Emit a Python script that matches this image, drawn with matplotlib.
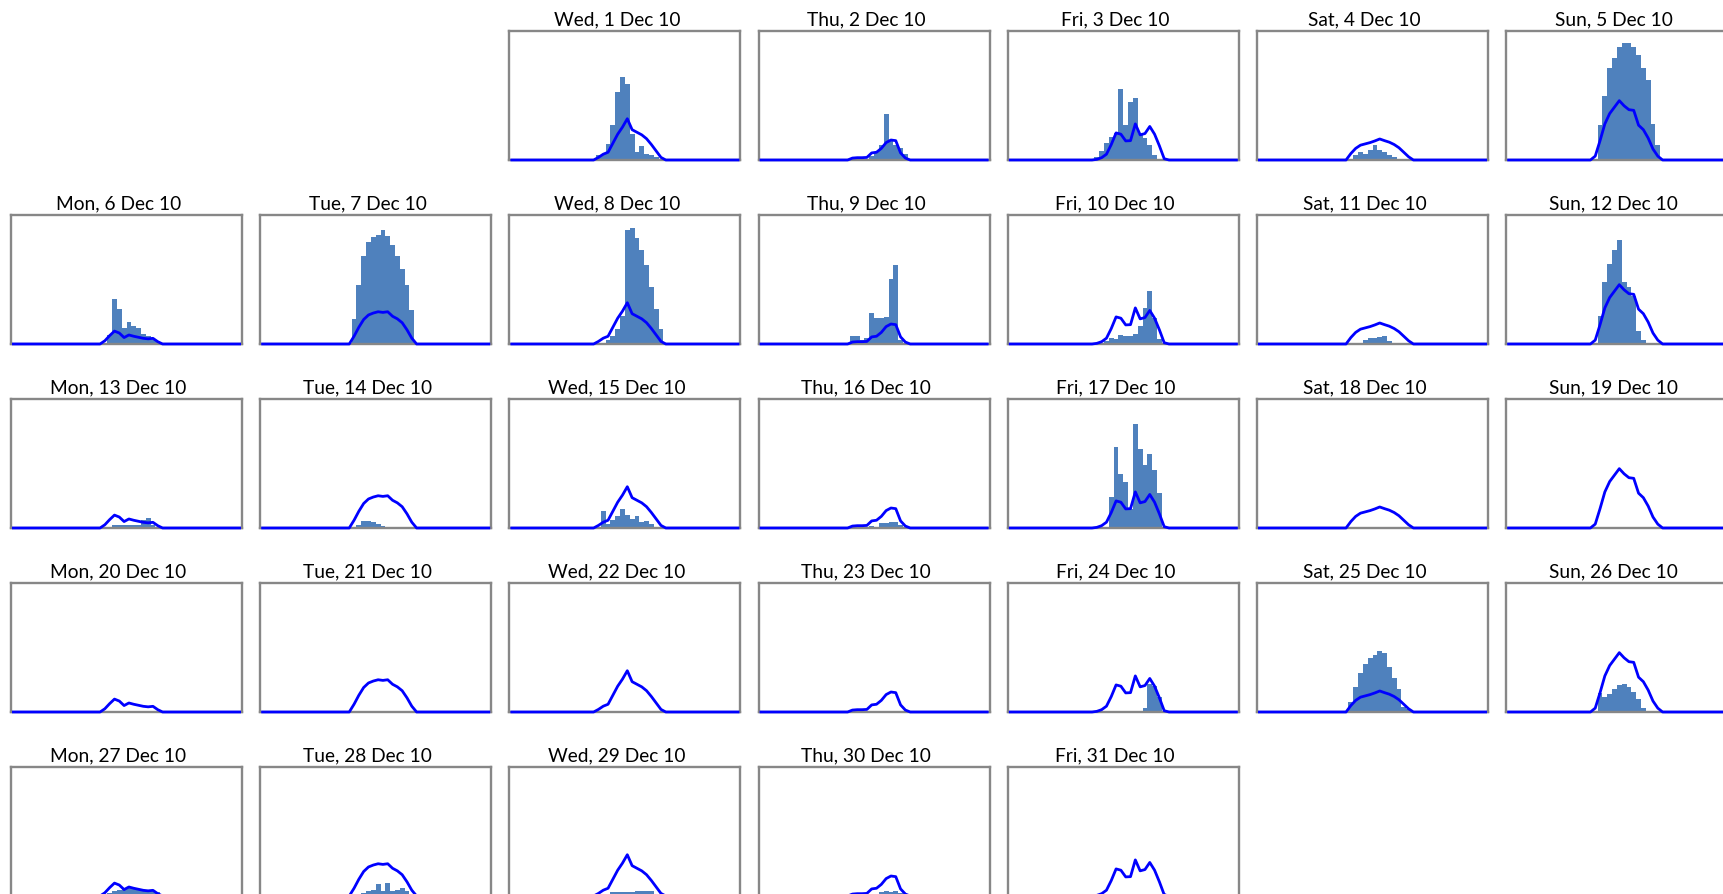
import numpy as np
import matplotlib
matplotlib.use("Agg")
import matplotlib.pyplot as plt

plt.rcParams['font.family'] = ['Lato', 'DejaVu Sans']

# ---------------- data ----------------
# half-hour slots 0..47; values listed for slots 16..33 (rest are zero)
FIRST_SLOT = 16
N_SLOTS = 48
weekday_names = ['Mon', 'Tue', 'Wed', 'Thu', 'Fri', 'Sat', 'Sun']
month_label = 'Dec 10'

# expected profile per weekday (line), % of panel scale
line_mon = [0, 0, 0, 2.5, 6.5, 10, 8.5, 5, 7, 6, 5.2, 4.4, 4, 4.4, 1.8, 0, 0, 0]
line_tue = [0, 0, 0, 6, 13, 19, 22.5, 24, 25, 24.5, 25, 21.5, 19.5, 16.5, 11, 4.5, 0, 0]
line_wed = [0, 0, 2, 4.5, 6, 13, 20, 25.5, 32, 23.5, 21.5, 19.5, 16.5, 12, 7, 2, 0, 0]
line_thu = [0, 0, 0, 1.5, 1.8, 1.8, 2, 5.5, 6, 9, 13.5, 15.5, 15, 5.5, 1.5, 0, 0, 0]
line_fri = [0, 0, 0.5, 1.8, 4.5, 12, 21, 20, 14.8, 15, 28, 19.5, 20.5, 26, 20, 11, 1, 0]
line_sat = [0, 0, 0, 5, 9, 11.5, 12.5, 13.5, 14.8, 16.3, 15, 13.8, 12, 9.5, 6, 2.5, 0, 0]
line_sun = [0, 0, 3, 15, 28, 36, 41, 46, 42, 39, 38.5, 27, 23.5, 17, 8.5, 3, 0, 0]
line_profiles = [line_mon, line_tue, line_wed, line_thu, line_fri, line_sat, line_sun]

# measured values per day (bars), slots 16..33
dec01 = [0, 0, 4, 5, 12.5, 27, 53, 64, 59, 20.5, 6.5, 11, 4.5, 3.5, 2, 0, 0, 0]
dec02 = [0, 0, 0, 0, 0, 0, 1, 3, 6, 12, 36, 15, 12, 9, 5, 0, 0, 0]
dec03 = [0, 0, 2.5, 7, 13, 18, 21, 55, 27, 45, 48, 20, 17, 12, 4, 0, 0, 0]
dec04 = [0, 0, 0, 0, 4, 6.5, 5, 7.7, 11.6, 7.7, 6.4, 4, 2, 1, 0, 0, 0, 0]
dec05 = [0, 0, 0, 27, 50, 71, 79, 87.6, 91, 91, 87.6, 81.7, 71, 62, 28, 12, 0, 0]
dec06 = [0, 0, 0, 0, 7, 34.5, 27, 12.5, 17, 14, 12.5, 8, 6.5, 5, 2, 0, 0, 0]
dec07 = [0, 0, 0, 19, 45.5, 68, 79, 83, 84.5, 88, 84, 76.5, 68, 58, 45.5, 26, 0, 0]
dec08 = [0, 0, 0, 1, 3, 6, 12, 22, 88, 90, 82, 73, 61, 44, 27, 12, 0, 0]
dec09 = [0, 0, 0, 6, 6, 3, 5, 24, 20, 20.5, 21, 50.5, 61.5, 3, 0, 0, 0, 0]
dec10 = [0, 0, 0, 0, 2, 5, 4, 7, 6, 6, 8, 14, 28, 41, 20, 4, 0, 0]
dec11 = [0, 0, 0, 0, 0, 1, 3, 4.5, 5, 5.5, 6, 2, 1, 0, 0, 0, 0, 0]
dec12 = [0, 0, 0, 22, 48, 62, 73, 81, 48, 44, 37, 10, 3, 0, 0, 0, 0, 0]
dec13 = [0, 0, 0, 0, 1, 2, 2.5, 2.5, 2, 2, 2.5, 6, 8, 2, 0, 0, 0, 0]
dec14 = [0, 0, 0, 0, 2, 5.5, 5.5, 5, 3, 1.5, 0.5, 0, 0, 0, 0, 0, 0, 0]
dec15 = [0, 0, 0, 13, 3, 6, 9, 15, 10, 7, 9, 5, 5.5, 3, 1, 0, 0, 0]
dec16 = [0, 0, 0, 0.5, 1, 1, 1, 1.5, 1, 4, 4, 5, 5, 2.5, 1, 0, 0, 0]
dec17 = [0, 0, 0, 0, 0, 24, 63, 42, 36, 15, 80.5, 61, 49, 57, 45, 27, 0, 0]
dec18 = [0] * 18
dec19 = [0] * 18
dec20 = [0] * 18
dec21 = [0] * 18
dec22 = [0] * 18
dec23 = [0] * 18
dec24 = [0, 0, 0, 0, 0, 0, 0, 0, 0, 0, 0, 0, 3, 22, 20, 12, 1, 0]
dec25 = [0, 0, 0, 8, 19.5, 30, 37, 42, 44, 47, 45.5, 35, 26, 18, 4, 2, 0, 0]
dec26 = [0, 0, 0, 15, 12, 14, 18, 21, 22, 19, 15.5, 10, 3, 0, 0, 0, 0, 0]
dec27 = [0, 0, 0, 0, 2, 4, 5, 5.5, 6, 6, 5.5, 5, 5, 4.5, 3, 0, 0, 0]
dec28 = [0, 0, 0, 0, 0, 2, 3.5, 5, 9.5, 3.5, 10, 3.5, 5, 6, 3.5, 0, 0, 0]
dec29 = [0, 0, 0, 0, 1, 3, 3, 3, 3, 3, 3.5, 4, 4, 3.5, 1, 0, 0, 0]
dec30 = [0, 0, 0, 0, 0, 0, 0, 1, 1.5, 3, 3.5, 3, 3.5, 2, 1, 0, 0, 0]
dec31 = [0, 0, 0, 0, 0, 0, 0, 0, 0, 0, 0, 1, 0, 0, 0, 0, 0, 0]
measured = [dec01, dec02, dec03, dec04, dec05, dec06, dec07, dec08, dec09, dec10,
            dec11, dec12, dec13, dec14, dec15, dec16, dec17, dec18, dec19, dec20,
            dec21, dec22, dec23, dec24, dec25, dec26, dec27, dec28, dec29, dec30,
            dec31]
FIRST_WEEKDAY = 2  # 1 Dec 2010 was a Wednesday

# ---------------- layout ----------------
W, H = 1723, 895
fig = plt.figure(figsize=(W / 100, H / 100), dpi=100)
fig.patch.set_facecolor('white')

col_x0, col_step, panel_w = 11, 249.2, 231
row_y0, row_step, panel_h = 32, 184, 129

slots = np.arange(N_SLOTS)


def full_day(vals):
    arr = np.zeros(N_SLOTS)
    arr[FIRST_SLOT:FIRST_SLOT + len(vals)] = vals
    return arr


for i, vals in enumerate(measured):
    day = i + 1
    pos = i + FIRST_WEEKDAY
    wd, row = pos % 7, pos // 7
    left = col_x0 + col_step * wd
    top = row_y0 + row_step * row
    ax = fig.add_axes([left / W, 1 - (top + panel_h) / H, panel_w / W, panel_h / H])
    ax.bar(slots, full_day(vals), width=1.0, color='#4F81BD', linewidth=0, zorder=2)
    ax.plot(slots, full_day(line_profiles[wd]), color='#0000FF', lw=2.0, zorder=4,
            clip_on=False, solid_joinstyle='round')
    ax.set_xlim(-0.5, N_SLOTS - 0.5)
    ax.set_ylim(0, 100)
    ax.set_xticks([])
    ax.set_yticks([])
    for s in ax.spines.values():
        s.set_color('#878787')
        s.set_linewidth(1.7)
        s.set_zorder(3)
    ax.text(0.5 - 8 / panel_w, 1 + 7 / panel_h,
            f"{weekday_names[wd]}, {day} {month_label}",
            transform=ax.transAxes, ha='center', va='baseline', fontsize=13.8,
            color='black')

fig.savefig('out.png', dpi=100, facecolor='white')
